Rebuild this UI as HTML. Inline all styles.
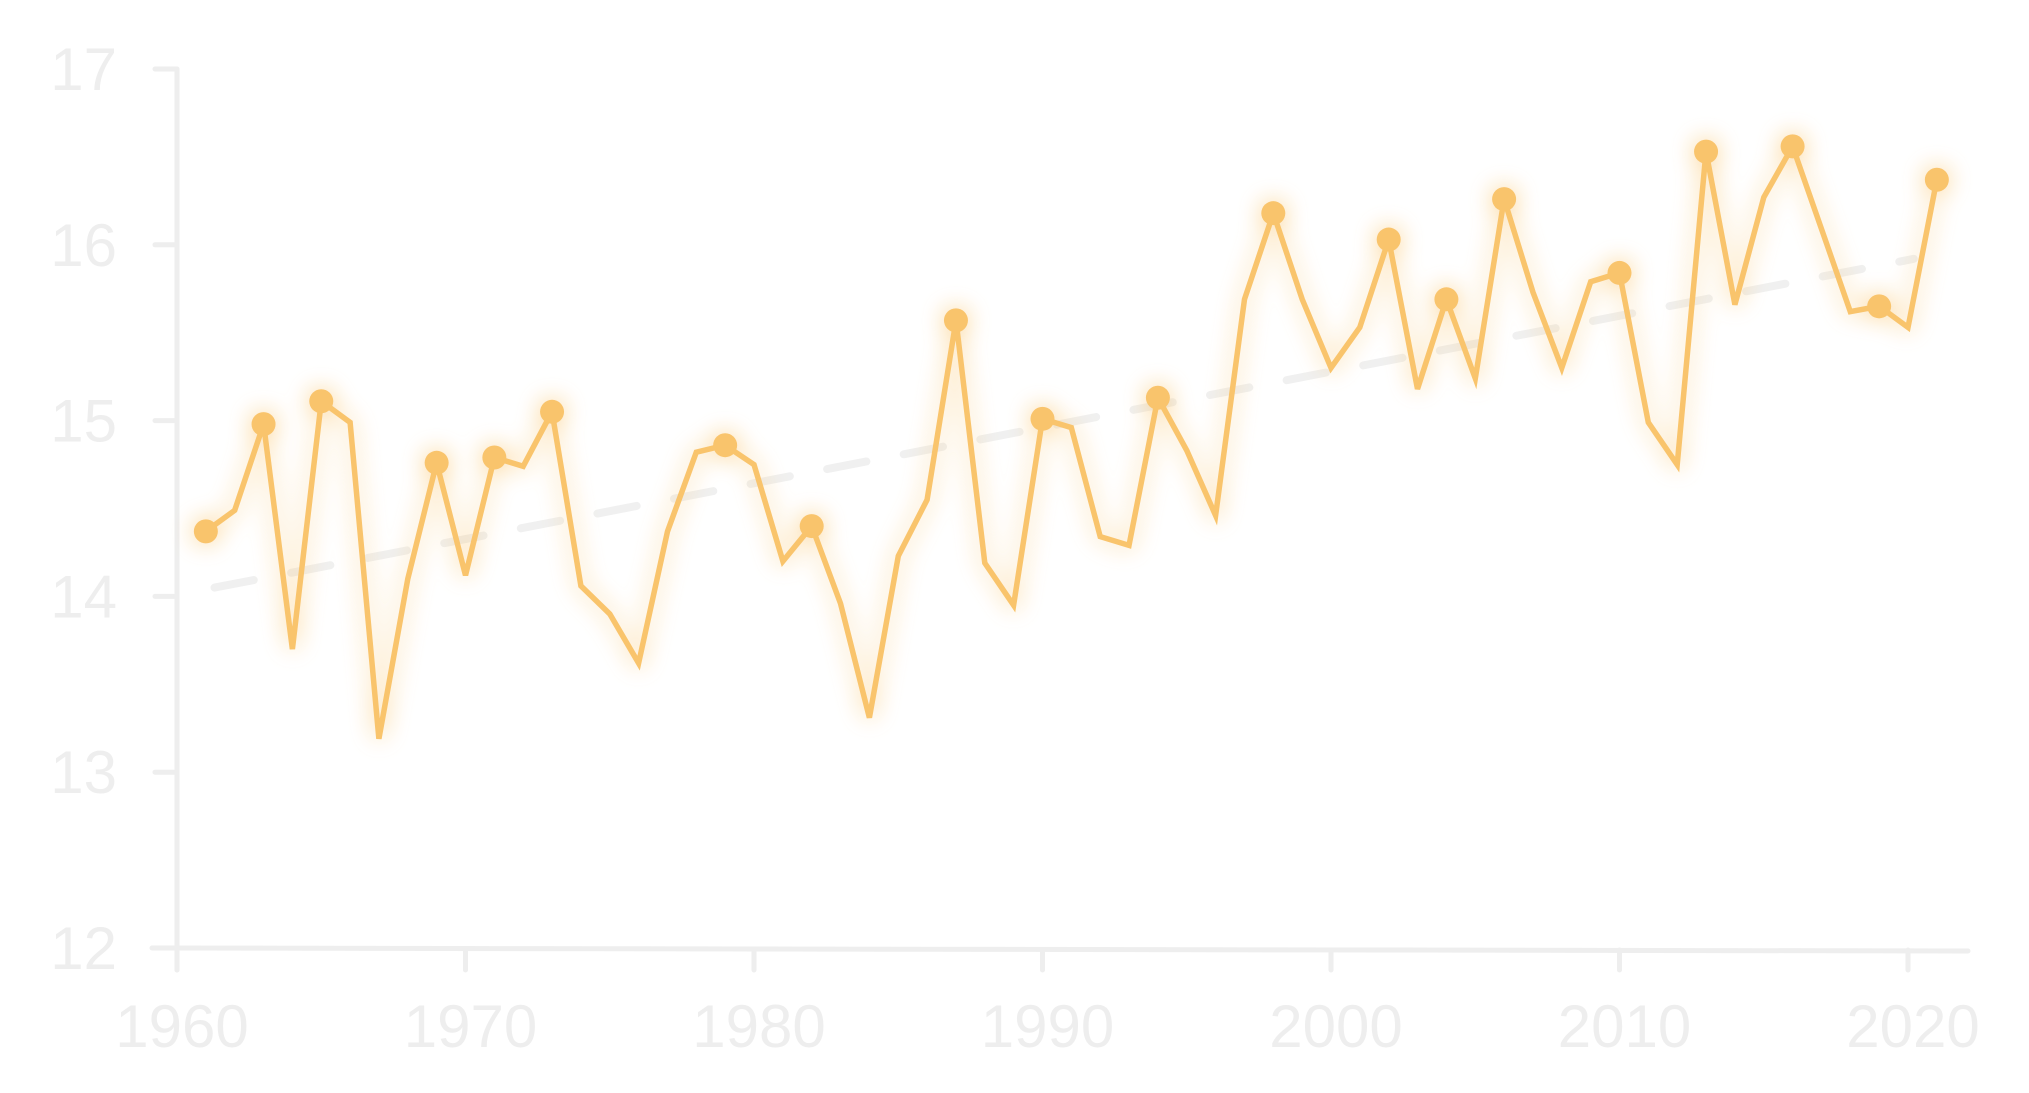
<!DOCTYPE html>
<html><head><meta charset="utf-8"><style>
html,body{margin:0;padding:0;background:#fff;}
svg{display:block;}
text{font-family:"Liberation Sans Narrow","Liberation Sans",sans-serif;fill:#eeeeee;}
</style></head><body>
<svg id="chart" width="2029" height="1093" viewBox="0 0 2029 1093" xmlns="http://www.w3.org/2000/svg">
<defs>
<filter id="glow" x="-10%" y="-20%" width="120%" height="140%">
<feGaussianBlur in="SourceGraphic" stdDeviation="12" result="b"/>
<feComponentTransfer in="b" result="b2"><feFuncA type="linear" slope="0.8"/></feComponentTransfer>
<feMerge><feMergeNode in="b2"/><feMergeNode in="SourceGraphic"/></feMerge>
</filter>
</defs>
<g id="axes"></g>
<g id="trend"></g>
<g id="series" filter="url(#glow)"></g>
</svg>
<script>
const years = [1961,1962,1963,1964,1965,1966,1967,1968,1969,1970,1971,1972,1973,1974,1975,1976,1977,1978,1979,1980,1981,1982,1983,1984,1985,1986,1987,1988,1989,1990,1991,1992,1993,1994,1995,1996,1997,1998,1999,2000,2001,2002,2003,2004,2005,2006,2007,2008,2009,2010,2011,2012,2013,2014,2015,2016,2017,2018,2019,2020,2021];
const temps = [14.37,14.49,14.98,13.70,15.11,14.99,13.19,14.10,14.76,14.12,14.79,14.74,15.05,14.06,13.90,13.62,14.37,14.82,14.86,14.75,14.20,14.40,13.96,13.31,14.23,14.55,15.57,14.19,13.95,15.01,14.96,14.34,14.29,15.13,14.83,14.46,15.69,16.18,15.69,15.30,15.53,16.03,15.18,15.69,15.24,16.26,15.73,15.30,15.79,15.84,14.99,14.75,16.53,15.66,16.27,16.56,16.09,15.62,15.65,15.53,16.37];
const dotYears = [1961,1963,1965,1969,1971,1973,1979,1982,1987,1990,1994,1998,2002,2004,2006,2010,2013,2016,2019,2021];
const trendYears = [1961.3,2020.2];
const trendValues = [14.05,15.92];
const yTicks = [12,13,14,15,16,17];
const xTicks = [1960,1970,1980,1990,2000,2010,2020];

const NS='http://www.w3.org/2000/svg';
const x = yr => 177 + (yr-1960)*(1908-177)/60;
const y = v => 948 - (v-12)*(948-69)/5;
function mk(tag, attrs, parent){const e=document.createElementNS(NS,tag);for(const k in attrs)e.setAttribute(k,attrs[k]);parent.appendChild(e);return e;}
const axes=document.getElementById('axes');
const AX='#eeeeee';
let e;
e=mk('line',{x1:177,y1:69,x2:177,y2:970,stroke:AX,'stroke-width':5,'stroke-linecap':'round'},axes);


e=mk('line',{x1:152,y1:948,x2:1968,y2:951,stroke:AX,'stroke-width':5,'stroke-linecap':'round'},axes);


yTicks.forEach(t=>{
  const tk=mk('line',{x1:155,y1:y(t),x2:177,y2:y(t),stroke:AX,'stroke-width':5,'stroke-linecap':'round'},axes);
  
  
  const tx=mk('text',{x:117,y:y(t)+21,'text-anchor':'end','font-size':60},axes);
  tx.textContent=t;
  
  
});
xTicks.forEach(t=>{
  const tk=mk('line',{x1:x(t),y1:950,x2:x(t),y2:970,stroke:AX,'stroke-width':5,'stroke-linecap':'round'},axes);
  
  
  const tx=mk('text',{x:x(t)+5,y:1047,'text-anchor':'middle','font-size':60},axes);
  tx.textContent=t;
  
  
});
const tr=mk('line',{x1:x(trendYears[0]),y1:y(trendValues[0]),x2:x(trendYears[1]),y2:y(trendValues[1]),stroke:'#f0f0f0','stroke-width':8,'stroke-dasharray':'40 38','stroke-linecap':'round'},document.getElementById('trend'));


const series=document.getElementById('series');
const pts=years.map((yr,i)=>x(yr).toFixed(1)+','+y(temps[i]).toFixed(1)).join(' ');
const pl=mk('polyline',{points:pts,fill:'none',stroke:'#f9c46c','stroke-width':5.5,'stroke-linejoin':'miter'},series);


dotYears.forEach(yr=>{
  const i=years.indexOf(yr);
  const c=mk('circle',{cx:x(yr),cy:y(temps[i]),r:12,fill:'#f9c46c'},series);
  
  
});
</script>
</body></html>
